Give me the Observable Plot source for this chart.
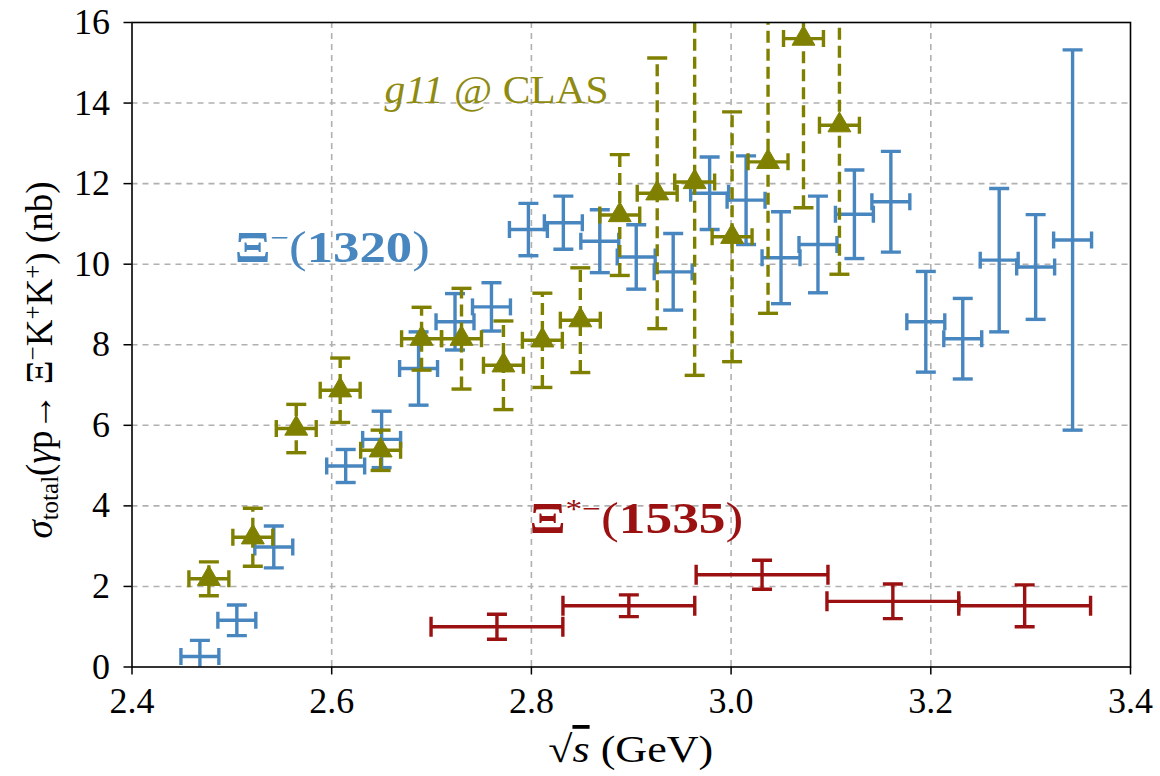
<!DOCTYPE html>
<html>
<head>
<meta charset="utf-8">
<script src="https://cdn.jsdelivr.net/npm/d3@7"></script>
<script src="https://cdn.jsdelivr.net/npm/@observablehq/plot@0.6"></script>
<style>
  html, body { margin: 0; padding: 0; background: #fff; }
  #chart svg { display: block; }
</style>
</head>
<body>
<div id="chart"></div>
<script>
// ---- Data ----
// Xi^-(1320) (blue crosses)
const blueX    = [2.468, 2.505, 2.542, 2.614, 2.650, 2.687, 2.7235, 2.760, 2.797, 2.832, 2.8685, 2.905, 2.942, 2.9785, 3.015, 3.050, 3.087, 3.1235, 3.160, 3.195, 3.232, 3.2685, 3.305, 3.342];
const blueY    = [0.26, 1.16, 2.98, 4.99, 5.65, 7.41, 8.57, 8.94, 10.86, 11.03, 10.57, 10.18, 9.81, 11.76, 11.59, 10.16, 10.49, 11.24, 11.55, 8.57, 8.15, 10.10, 9.93, 10.60];
const blueYErr = [0.40, 0.38, 0.52, 0.41, 0.70, 0.91, 0.70, 0.60, 0.65, 0.66, 0.78, 0.80, 0.95, 0.90, 1.10, 1.14, 1.20, 1.10, 1.25, 1.25, 1.00, 1.78, 1.30, 4.72];
const blueXErr = 0.019;

// g11 @ CLAS (olive triangles, dashed error bars)
const greenX    = [2.477, 2.521, 2.5645, 2.6085, 2.649, 2.690, 2.730, 2.772, 2.811, 2.849, 2.8885, 2.926, 2.9635, 3.001, 3.037, 3.0725, 3.1085];
const greenY    = [2.19, 3.22, 5.92, 6.87, 5.38, 8.15, 8.15, 7.49, 8.11, 8.61, 11.22, 11.76, 12.04, 10.68, 12.54, 15.60, 13.45];
const greenYErr = [0.42, 0.72, 0.60, 0.80, 0.50, 0.78, 1.25, 1.10, 1.17, 1.30, 1.50, 3.36, 4.80, 3.10, 3.76, 4.20, 3.70];
const greenXErr = 0.020;

// Xi*^-(1535) (dark red, binned)
const redX    = [2.7655, 2.8976, 3.031, 3.162, 3.294];
const redY    = [1.00, 1.52, 2.29, 1.63, 1.52];
const redYErr = [0.31, 0.27, 0.36, 0.43, 0.52];
const redXErr = [0.066, 0.066, 0.066, 0.066, 0.066];

// Axis ticks
const xTicks = [2.4, 2.6, 2.8, 3.0, 3.2, 3.4];
const yTicks = [0, 2, 4, 6, 8, 10, 12, 14, 16];

// ---- Build tables ----
const blue  = blueX.map((x, i) => ({x, y: blueY[i], ey: blueYErr[i], ex: blueXErr}));
const green = greenX.map((x, i) => ({x, y: greenY[i], ey: greenYErr[i], ex: greenXErr}));
const red   = redX.map((x, i) => ({x, y: redY[i], ey: redYErr[i], ex: redXErr[i]}));

const BLUE = "#4886bf", OLIVE = "#808000", RED = "#9b1010";
const SERIF = "'Liberation Serif'";
const SERIF2 = "'DejaVu Serif'";

// Cap symbols (fixed pixel length)
const hCap = {draw(ctx, size) { const r = Math.sqrt(size / Math.PI); ctx.moveTo(-r, 0); ctx.lineTo(r, 0); }};
const vCap = {draw(ctx, size) { const r = Math.sqrt(size / Math.PI); ctx.moveTo(0, -r); ctx.lineTo(0, r); }};

function errorBars(data, color, opts = {}) {
  const sw = opts.strokeWidth ?? 3.4;
  const dash = opts.dash;
  const capR = opts.capR ?? 10;
  return [
    Plot.ruleX(data, {x: "x", y1: d => d.y - d.ey, y2: d => d.y + d.ey, stroke: color, strokeWidth: sw, strokeDasharray: dash, clip: true}),
    Plot.ruleY(data, {y: "y", x1: d => d.x - d.ex, x2: d => d.x + d.ex, stroke: color, strokeWidth: sw, clip: true}),
    Plot.dot(data, {x: "x", y: d => d.y + d.ey, symbol: hCap, r: capR, stroke: color, strokeWidth: sw, fill: "none", clip: true}),
    Plot.dot(data, {x: "x", y: d => d.y - d.ey, symbol: hCap, r: capR, stroke: color, strokeWidth: sw, fill: "none", clip: true}),
    Plot.dot(data, {x: d => d.x - d.ex, y: "y", symbol: vCap, r: opts.xCapR ?? 8.5, stroke: color, strokeWidth: sw, fill: "none", clip: true}),
    Plot.dot(data, {x: d => d.x + d.ex, y: "y", symbol: vCap, r: opts.xCapR ?? 8.5, stroke: color, strokeWidth: sw, fill: "none", clip: true})
  ];
}

const plot = Plot.plot({
  width: 1160,
  height: 776,
  marginLeft: 131.5,
  marginRight: 30,
  marginTop: 22,
  marginBottom: 109.5,
  style: {background: "#fff", color: "#000"},
  x: {domain: [2.4, 3.4]},
  y: {domain: [0, 16]},
  marks: [
    // dashed grid
    Plot.ruleX(xTicks.slice(1, -1), {stroke: "#b0b0b0", strokeWidth: 1.6, strokeDasharray: "6,5"}),
    Plot.ruleY(yTicks.slice(1, -1), {stroke: "#b0b0b0", strokeWidth: 1.6, strokeDasharray: "6,5"}),
    // data
    ...errorBars(blue, BLUE, {capR: 10, xCapR: 8.5}),
    ...errorBars(green, OLIVE, {dash: "12,6", capR: 10, xCapR: 8.5}),
    Plot.dot(green, {x: "x", y: "y", symbol: "triangle", r: 8.5, fill: OLIVE, stroke: OLIVE, strokeWidth: 1, clip: true}),
    ...errorBars(red, RED, {capR: 10, xCapR: 10}),
    // axes
    Plot.axisX({ticks: xTicks, tickFormat: d => d.toFixed(1), tickSize: 8, tickPadding: 12, strokeWidth: 1.5, label: null}),
    Plot.axisY({ticks: yTicks, tickFormat: d => String(d), tickSize: 8, tickPadding: 14, strokeWidth: 1.5, label: null}),
    Plot.frame({stroke: "#000", strokeWidth: 1.6})
  ]
});

document.getElementById("chart").appendChild(plot);

const svg = d3.select(plot);
// tick labels: serif font, large size
svg.selectAll('g[aria-label="x-axis tick label"], g[aria-label="y-axis tick label"]')
  .attr("font-variant", null).style("font-variant", "normal")
  .style("font-family", SERIF).style("font-size", "36px").style("fill", "#000")
  .selectAll("text").style("font-family", SERIF).style("font-size", "36px");

// ---- Text annotations placed with the plot's own scales ----
const sx = plot.scale("x"), sy = plot.scale("y");

function richText(x, y, parts, attrs = {}) {
  const t = svg.append("text").attr("x", x).attr("y", y)
    .style("font-family", attrs.family || SERIF).style("font-size", (attrs.size || 34) + "px")
    .attr("fill", attrs.fill || "#000")
    .attr("text-anchor", attrs.anchor || "start");
  if (attrs.transform) t.attr("transform", attrs.transform);
  if (attrs.length) t.attr("textLength", attrs.length).attr("lengthAdjust", "spacingAndGlyphs");
  for (const p of parts) {
    const s = t.append("tspan").text(p.t);
    if (p.weight) s.style("font-weight", p.weight);
    if (p.style) s.style("font-style", p.style);
    if (p.size) s.style("font-size", p.size + "px");
    if (p.shift) s.attr("baseline-shift", p.shift);
    if (p.deco) s.style("text-decoration", p.deco);
  }
  return t;
}

// Xi^-(1320) label
richText(sx.apply(2.5035), sy.apply(10.05), [
  {t: "Ξ", weight: "bold"},
  {t: "−", size: 28, shift: "55%"},
  {t: "(", weight: "normal"},
  {t: "1320", weight: "bold"},
  {t: ")", weight: "normal"}
], {size: 45, fill: BLUE, length: 195});

// g11 @ CLAS label
richText(sx.apply(2.6535), sy.apply(14.0), [
  {t: "g11", style: "italic"},
  {t: " @ CLAS"}
], {size: 40, fill: "#8f8a10", length: 224});

// Xi*^-(1535) label
richText(sx.apply(2.7985), sy.apply(3.32), [
  {t: "Ξ", weight: "bold"},
  {t: "*−", size: 28, shift: "55%"},
  {t: "(", weight: "normal"},
  {t: "1535", weight: "bold"},
  {t: ")", weight: "normal"}
], {size: 45, fill: RED, length: 214});

// x axis label
richText((sx.apply(2.4) + sx.apply(3.4)) / 2, 762, [
  {t: "√"},
  {t: "s", style: "italic", deco: "overline"},
  {t: " (GeV)"}
], {size: 38, anchor: "middle", length: 165});

// y axis label (rotated)
richText(0, 0, [
  {t: "σ", style: "italic"},
  {t: "total", size: 25, shift: "-25%"},
  {t: "("},
  {t: "γ", style: "italic"},
  {t: "p→ Ξ"},
  {t: "−", size: 25, shift: "45%"},
  {t: "K"},
  {t: "+", size: 25, shift: "45%"},
  {t: "K"},
  {t: "+", size: 25, shift: "45%"},
  {t: ") (nb)"}
], {size: 37, anchor: "middle", transform: `translate(52,360) rotate(-90)`});
</script>
</body>
</html>
